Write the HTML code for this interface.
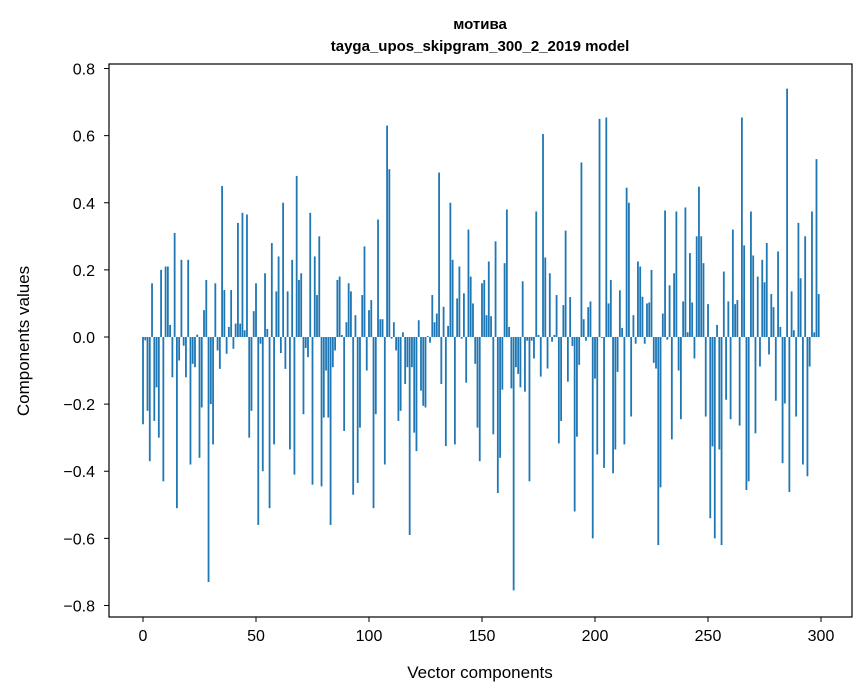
<!DOCTYPE html>
<html><head><meta charset="utf-8"><style>
body{margin:0;background:#fff;}
svg{display:block;font-family:"Liberation Sans","DejaVu Sans",sans-serif;}
</style></head><body>
<svg id="chart" width="867" height="696" viewBox="0 0 867 696">
<rect width="867" height="696" fill="#fff"/>
<text x="480" y="29" text-anchor="middle" font-size="15" font-weight="bold">мотива</text>
<text x="480" y="51" text-anchor="middle" font-size="15" font-weight="bold">tayga_upos_skipgram_300_2_2019 model</text>
<g id="bars"></g>
<g id="axes"></g>
<rect x="109" y="64" width="743" height="553" fill="none" stroke="#000" stroke-width="1.2"/>
<text x="480" y="678" text-anchor="middle" font-size="17">Vector components</text>
<text transform="translate(29,341) rotate(-90)" text-anchor="middle" font-size="17">Components values</text>
</svg>
<script>
const values = [
-0.26,-0.01,-0.22,-0.37,0.16,-0.25,-0.15,-0.30,0.20,-0.43,
0.21,0.21,0.036,-0.12,0.31,-0.51,-0.07,0.23,-0.026,-0.12,
0.23,-0.38,-0.08,-0.09,0.007,-0.36,-0.21,0.08,0.17,-0.73,
-0.20,-0.32,0.16,-0.04,-0.095,0.45,0.14,-0.05,0.03,0.14,
-0.035,0.04,0.34,0.04,0.37,0.02,0.365,-0.30,-0.22,0.077,
0.16,-0.56,-0.02,-0.40,0.19,0.024,-0.51,0.28,-0.32,0.136,
0.24,-0.048,0.40,-0.095,0.136,-0.335,0.23,-0.41,0.48,0.17,
0.19,-0.23,-0.033,-0.06,0.37,-0.44,0.24,0.125,0.30,-0.445,
-0.24,-0.10,-0.24,-0.56,-0.09,-0.04,0.17,0.18,0.006,-0.28,
0.044,0.16,0.136,-0.47,0.065,-0.435,-0.27,0.125,0.27,-0.10,
0.08,0.11,-0.51,-0.23,0.35,0.053,0.053,-0.38,0.63,0.50,
-0.005,0.044,-0.04,-0.25,-0.22,0.014,-0.14,-0.09,-0.59,-0.09,
-0.285,-0.34,0.05,-0.16,-0.205,-0.21,0.003,-0.017,0.125,0.044,
0.07,0.49,-0.14,0.09,-0.325,0.033,0.40,0.23,-0.32,0.115,
0.21,-0.005,0.13,-0.136,0.32,0.18,0.10,-0.08,-0.27,-0.37,
0.16,0.17,0.065,0.225,0.062,-0.29,0.285,-0.465,-0.36,-0.157,
0.22,0.38,0.03,-0.153,-0.755,-0.09,-0.11,-0.15,0.166,-0.163,
-0.011,-0.43,-0.011,-0.064,0.374,0.006,-0.118,0.605,0.237,-0.094,
0.19,-0.014,0.006,0.125,-0.317,-0.25,0.095,0.317,-0.133,0.119,
-0.027,-0.52,-0.297,-0.083,0.52,0.053,-0.011,0.089,0.106,-0.60,
-0.124,-0.35,0.65,-0.003,-0.39,0.654,0.10,0.17,-0.406,-0.335,
-0.104,0.139,0.027,-0.32,0.445,0.40,-0.237,0.065,-0.02,0.225,
0.21,0.12,-0.02,0.10,0.103,0.20,-0.077,-0.094,-0.62,-0.448,
0.07,0.377,-0.008,0.154,-0.305,0.19,0.374,-0.10,-0.245,0.106,
0.386,0.014,0.25,0.103,-0.064,0.30,0.448,0.30,0.22,-0.237,
0.098,-0.54,-0.326,-0.60,0.036,-0.335,-0.62,0.195,-0.187,0.106,
-0.245,0.32,0.098,0.11,-0.264,0.654,0.273,-0.456,-0.43,0.374,
0.243,-0.287,0.18,-0.088,0.23,0.163,0.28,-0.052,0.128,0.089,
-0.19,0.255,0.03,-0.376,-0.198,0.74,-0.462,0.136,0.02,-0.237,
0.34,0.175,-0.38,0.30,-0.415,-0.088,0.374,0.014,0.53,0.128
];
const xTicks = [0,50,100,150,200,250,300];
const yTicks = [-0.8,-0.6,-0.4,-0.2,0.0,0.2,0.4,0.6,0.8];
const yTickLabels = ["\u22120.8","\u22120.6","\u22120.4","\u22120.2","0.0","0.2","0.4","0.6","0.8"];

const NS="http://www.w3.org/2000/svg";
function xs(v){return 143+2.26*v;}
function ys(v){return 337-335.6*v;}
const bars=document.getElementById('bars');
values.forEach((v,i)=>{
  const r=document.createElementNS(NS,'rect');
  const y0=ys(0), y1=ys(v);
  r.setAttribute('x',xs(i)-0.9);
  r.setAttribute('width',1.8);
  r.setAttribute('y',Math.min(y0,y1));
  r.setAttribute('height',Math.max(Math.abs(y1-y0),0.3));
  r.setAttribute('fill','#1f77b4');
  
  
  bars.appendChild(r);
});
const axes=document.getElementById('axes');
xTicks.forEach(t=>{
  const l=document.createElementNS(NS,'line');
  l.setAttribute('x1',xs(t));l.setAttribute('x2',xs(t));
  l.setAttribute('y1',617);l.setAttribute('y2',622);
  l.setAttribute('stroke','#000');
  
  
  axes.appendChild(l);
  const tx=document.createElementNS(NS,'text');
  tx.setAttribute('x',xs(t));tx.setAttribute('y',641);
  tx.setAttribute('text-anchor','middle');tx.setAttribute('font-size','16');
  tx.textContent=t;
  
  
  axes.appendChild(tx);
});
yTicks.forEach((t,i)=>{
  const l=document.createElementNS(NS,'line');
  l.setAttribute('x1',104);l.setAttribute('x2',109);
  l.setAttribute('y1',ys(t));l.setAttribute('y2',ys(t));
  l.setAttribute('stroke','#000');
  
  
  axes.appendChild(l);
  const tx=document.createElementNS(NS,'text');
  tx.setAttribute('x',95);tx.setAttribute('y',ys(t)+6);
  tx.setAttribute('text-anchor','end');tx.setAttribute('font-size','16');
  tx.textContent=yTickLabels[i];
  
  
  axes.appendChild(tx);
});
</script>
</body></html>
